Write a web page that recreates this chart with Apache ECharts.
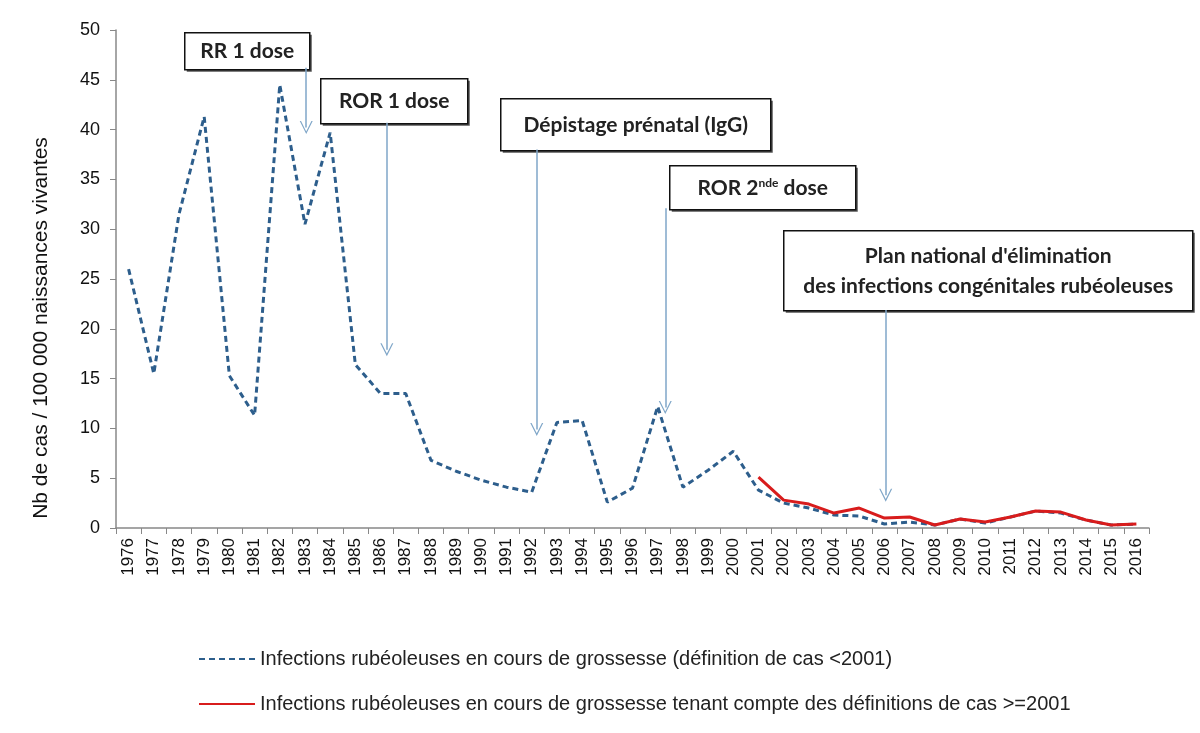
<!DOCTYPE html>
<html><head><meta charset="utf-8">
<script src="https://cdn.jsdelivr.net/npm/echarts@6/dist/echarts.min.js"></script>
<style>html,body{margin:0;padding:0;background:#fff}#c{width:1200px;height:733px}</style>
</head><body><div id="c"></div>
<script>
var years = ['1976','1977','1978','1979','1980','1981','1982','1983','1984','1985','1986','1987','1988','1989','1990','1991','1992','1993','1994','1995','1996','1997','1998','1999','2000','2001','2002','2003','2004','2005','2006','2007','2008','2009','2010','2011','2012','2013','2014','2015','2016'];
var bluePre2001 = [26, 15.5, 31.5, 41.3, 15.3, 11.3, 44.5, 30.5, 39.7, 16.4, 13.5, 13.5, 6.8, 5.7, 4.8, 4.1, 3.6, 10.6, 10.8, 2.6, 4.0, 12.2, 4.1, 5.8, 7.7, 3.8, 2.5, 2.0, 1.3, 1.2, 0.4, 0.6, 0.3, 0.9, 0.5, 1.1, 1.7, 1.5, 0.8, 0.3, 0.4];
var redPost2001 = [null,null,null,null,null,null,null,null,null,null,null,null,null,null,null,null,null,null,null,null,null,null,null,null,null, 5.1, 2.8, 2.4, 1.5, 2.0, 1.0, 1.1, 0.3, 0.9, 0.6, 1.1, 1.7, 1.6, 0.8, 0.3, 0.4];
var seriesNames = ['Infections rubéoleuses en cours de grossesse (définition de cas <2001)', 'Infections rubéoleuses en cours de grossesse tenant compte des définitions de cas >=2001'];
var yTicks = {min: 0, max: 50, interval: 5};
var yAxisName = 'Nb de cas / 100 000 naissances vivantes';
// annotation arrows: [position in year-index units, from value, to value]
var arrows = [[7.05, 46.2, 40.2], [10.25, 40.7, 17.9], [16.2, 38.0, 9.9], [21.3, 32.1, 12.1], [30.05, 21.9, 3.3]];

var chart = echarts.init(document.getElementById('c'));
var arrowColor = '#7fa6c8';
var vHead = 'path://M0,10 L5,0 L10,10 L9,10 L5,2 L1,10 Z';

function box(x, y, w, h, textCfg) {
  return {
    type: 'group', left: x, top: y, z: 100,
    children: [
      {type: 'rect', shape: {x: 2, y: 2, width: w, height: h}, style: {fill: '#555'}},
      {type: 'rect', shape: {x: 0, y: 0, width: w, height: h}, style: {fill: '#fff', stroke: '#111', lineWidth: 1.5}},
      {type: 'text', x: w / 2, y: h / 2, style: Object.assign({align: 'center', verticalAlign: 'middle', fill: '#222', font: 'bold 21px Lato'}, textCfg)}
    ]
  };
}

chart.setOption({
  backgroundColor: '#fff',
  animation: false,
  grid: {left: 116, right: 51, top: 30, bottom: 205},
  legend: {
    orient: 'vertical', left: 193, top: 644, itemGap: 25, itemWidth: 56, itemHeight: 14,
    itemStyle: {opacity: 0},
    textStyle: {fontFamily: 'Liberation Sans', fontSize: 20, color: '#222'},
    data: seriesNames
  },
  xAxis: [{
    type: 'category', data: years, boundaryGap: true,
    axisLine: {onZero: false, lineStyle: {color: '#888', width: 1.5}},
    axisTick: {show: true, length: 6, lineStyle: {color: '#888'}},
    axisLabel: {rotate: 90, interval: 0, fontFamily: 'Liberation Sans', fontSize: 17, color: '#111', margin: 10}
  }, {
    type: 'value', min: -0.5, max: years.length - 0.5, show: false
  }],
  yAxis: {
    type: 'value', min: yTicks.min, max: yTicks.max, interval: yTicks.interval,
    splitLine: {show: false},
    axisLine: {show: true, onZero: false, lineStyle: {color: '#888', width: 1.5}},
    axisTick: {show: true, length: 6, lineStyle: {color: '#888'}},
    axisLabel: {fontFamily: 'Liberation Sans', fontSize: 18, color: '#111', margin: 16}
  },
  series: [
    {
      name: seriesNames[0], type: 'line', data: bluePre2001, symbol: 'none', z: 2,
      lineStyle: {color: '#2d5e8c', width: 3, type: [6, 4]}, itemStyle: {color: '#2d5e8c'}
    },
    {
      name: seriesNames[1], type: 'line', data: redPost2001, symbol: 'none', z: 3,
      lineStyle: {color: '#d81c1c', width: 3}, itemStyle: {color: '#d81c1c'}
    },
    {
      name: 'arrows', type: 'line', xAxisIndex: 1, data: [], symbol: 'none',
      markLine: {
        silent: true, symbol: ['none', vHead], symbolSize: [13, 13],
        lineStyle: {color: arrowColor, width: 1.5, type: 'solid'},
        label: {show: false},
        data: arrows.map(function (a) { return [{coord: [a[0], a[1]]}, {coord: [a[0], a[2]]}]; })
      }
    }
  ],
  graphic: [
    {type: 'text', x: 41, y: 328, rotation: Math.PI / 2, style: {text: yAxisName, align: 'center', verticalAlign: 'middle', fill: '#111', font: '21px "Liberation Sans"'}},
    box(184, 32, 125, 37, {text: 'RR 1 dose'}),
    box(320, 78, 147, 45, {text: 'ROR 1 dose'}),
    box(500, 98, 270, 52, {text: 'Dépistage prénatal (IgG)'}),
    box(669, 165, 186, 44, {rich: {s: {font: 'bold 12px Lato', fill: '#222', verticalAlign: 'top', padding: [0, 0, 10, 0]}}, text: 'ROR 2{s|nde} dose'}),
    box(783, 230, 409, 80, {text: "Plan national d'élimination\ndes infections congénitales rubéoleuses", lineHeight: 30})
  ]
});
</script></body></html>
